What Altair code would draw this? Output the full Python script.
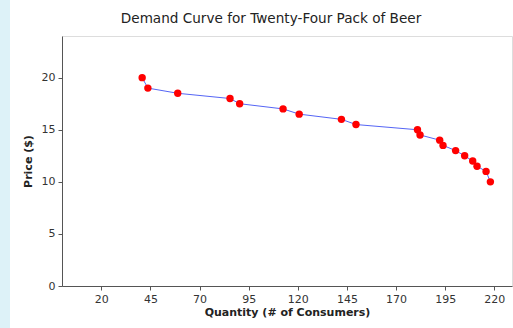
import altair as alt
import pandas as pd

quantity = [40.8, 43.7, 58.9, 85.5, 90.4, 112.5, 120.7, 142.2, 149.6, 180.9, 182.2,
            192.2, 193.9, 200.3, 204.9, 209.0, 211.2, 215.8, 218.0]
price = [20.0, 19.0, 18.5, 18.0, 17.5, 17.0, 16.5, 16.0, 15.5, 15.0, 14.5,
         14.0, 13.5, 13.0, 12.5, 12.0, 11.5, 11.0, 10.0]
x_ticks = [20, 45, 70, 95, 120, 145, 170, 195, 220]
y_ticks = [0, 5, 10, 15, 20]
title_text = "Demand Curve for Twenty-Four Pack of Beer"

df = pd.DataFrame({"q": quantity, "p": price})

W, H = 450, 250
FONT = "DejaVu Sans"

x = alt.X("q:Q", scale=alt.Scale(domain=[0, 229], nice=False, zero=False),
          axis=alt.Axis(values=x_ticks, title="Quantity (# of Consumers)", grid=False,
                        tickSize=4, tickColor="#555", domainColor="#555",
                        labelColor="#333", labelFont=FONT, labelFontSize=11,
                        titleFont=FONT, titleFontSize=11, titleFontWeight="bold",
                        titleColor="#222", titlePadding=2, labelPadding=3))
y = alt.Y("p:Q", scale=alt.Scale(domain=[0, 24], nice=False),
          axis=alt.Axis(values=y_ticks, title="Price ($)", grid=False,
                        tickSize=4, tickColor="#555", domainColor="#555",
                        labelColor="#333", labelFont=FONT, labelFontSize=11,
                        titleFont=FONT, titleFontSize=11, titleFontWeight="bold",
                        titleColor="#222", titlePadding=8, labelPadding=3))

one = pd.DataFrame({"t": [title_text]})

strip = alt.Chart(one).mark_rect(color="#DDF2F8", clip=False).encode(
    x=alt.value(-62), x2=alt.value(-52), y=alt.value(-36), y2=alt.value(H + 42)
)

title = alt.Chart(one).mark_text(font=FONT, fontSize=13.6, color="#222",
                                 align="center", baseline="alphabetic").encode(
    x=alt.value(W / 2 - 16), y=alt.value(-13), text="t:N"
)

line = alt.Chart(df).mark_line(color="#5565F5", strokeWidth=1).encode(x=x, y=y)
pts = alt.Chart(df).mark_circle(color="#FF0000", size=55, opacity=1).encode(x=x, y=y)

chart = alt.layer(strip, title, line, pts).properties(
    width=W, height=H,
    autosize=alt.AutoSizeParams(type="none"),
    padding={"left": 62, "top": 36, "right": 1, "bottom": 42},
).configure_view(stroke="#999", strokeWidth=1).configure(background="white")

chart.save("out.html", embed_options={"renderer": "svg", "actions": False})
